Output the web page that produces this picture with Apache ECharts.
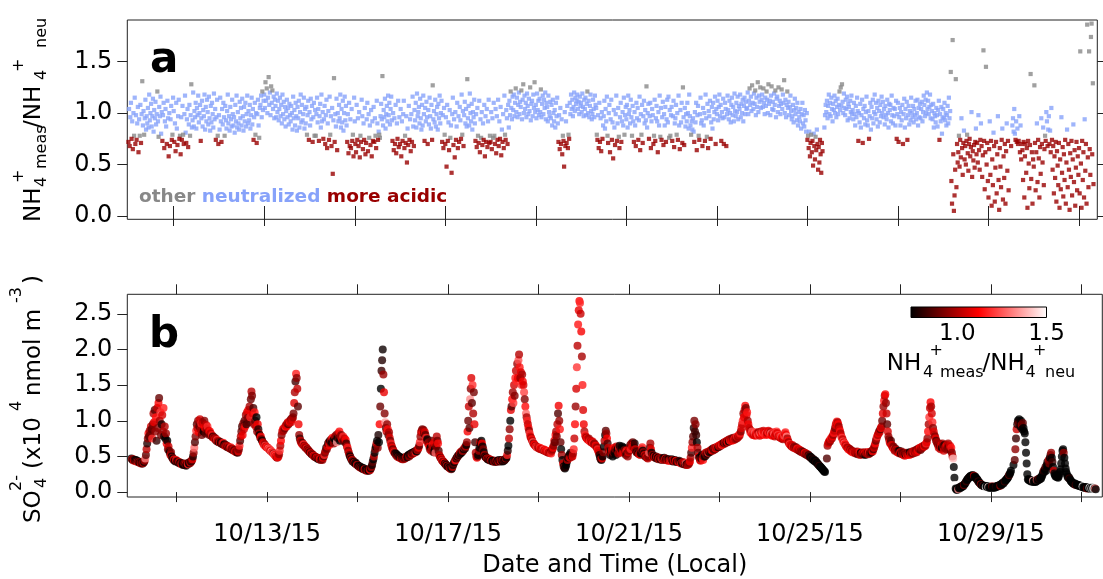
<!DOCTYPE html>
<html>
<head>
<meta charset="utf-8">
<script src="https://cdn.jsdelivr.net/npm/echarts@6/dist/echarts.min.js"></script>
<style>
  html, body { margin: 0; padding: 0; background: #fff; }
  #chart { width: 1103px; height: 579px; }
</style>
</head>
<body>
<div id="chart"></div>
<script>
// Sampling: one row per day (local time), starting 10/10/15 00:00, every 20 minutes.
const FIRST_DAY = 10;          // day of October of the first row
const SAMPLES_PER_DAY = 72;

// Sulfate, in units of 100 nmol m-3 (value / 100 gives x10^4 nmol m-3)
const so4ByDay = [
  [47,46,45,46,44,45, 44,45,43,44,42,43, 42,41,42,40,41,40, 40,41,42,44,47,52, 60,68,75,82,78,86, 80,92,88,75,95,110, 98,115,85,105,72,118, 90,125,132,100,112,80, 95,108,85,118,78,92, 75,82,68,72,60,64, 58,55,52,56,50,48, 47,45,46,44,43,45],
  [44,43,42,41,42,40, 41,40,39,40,38,39, 40,38,39,37,39,40, 39,41,40,42,41,43, 44,46,50,55,62,70, 78,86,95,90,100,84, 92,102,88,96,80,98, 95,85,100,90,82,94, 88,92,84,86,80,85, 82,79,80,77,78,76, 76,74,75,72,73,71, 72,70,71,69,70,68],
  [68,67,69,66,67,65, 66,64,65,63,64,62, 62,61,63,60,61,59, 60,58,59,57,58,56, 56,55,57,60,65,72, 78,85,92,80,96,88, 100,92,108,95,112,104, 115,98,120,105,130,141, 135,110,118,95,112,100, 92,105,85,95,88,82, 80,76,78,74,72,70, 68,66,67,65,64,63],
  [63,62,61,60,60,58, 58,57,56,55,54,53, 52,51,50,49,48,49, 50,53,58,65,72,80, 85,88,86,90,89,92, 94,92,96,98,95,97, 99,101,98,103,102,105, 110,125,140,155,166,160, 145,120,95,80,75,72, 70,68,69,66,67,65, 64,62,63,61,60,59, 58,57,56,55,54,53],
  [53,52,51,50,50,49, 49,48,47,48,46,47, 46,45,47,46,45,48, 50,52,55,58,62,60, 64,68,70,66,72,69, 74,70,76,72,68,75, 78,72,80,70,76,82, 75,85,72,78,80,74, 76,78,72,75,70,73, 68,64,62,58,55,52, 50,48,46,45,43,44, 42,41,40,41,39,38],
  [38,37,36,35,36,34, 34,33,34,32,33,32, 31,32,30,31,30,31, 30,32,31,33,35,38, 42,46,50,55,60,64, 68,72,62,80,70,95, 120,145,170,185,200,165, 140,110,98,90,85,95, 88,80,84,76,72,68, 65,62,60,58,56,55, 54,52,53,50,51,49, 50,48,49,47,48,46],
  [47,46,48,47,49,48, 50,49,51,52,50,53, 52,54,53,55,54,56, 55,57,56,58,57,59, 60,62,65,70,78,84, 86,88,85,87,82,84, 80,76,72,74,68,70, 64,60,62,58,72,66, 62,56,70,60,55,64, 78,72,68,58,52,50, 48,47,45,44,43,42, 41,40,39,38,37,36],
  [36,35,34,33,34,32, 33,35,38,40,42,44, 45,47,48,50,51,52, 53,55,54,57,56,58, 58,60,62,61,64,66, 70,85,100,120,90,130, 145,160,125,150,110,140, 95,70,55,50,48,50, 52,58,62,70,66,72, 68,64,60,56,52,50, 49,48,47,46,47,45, 46,45,44,45,44,43],
  [44,43,44,42,43,44, 43,44,43,45,44,43, 44,45,44,43,45,44, 45,46,47,48,52,58, 65,75,88,100,115,120, 130,140,125,150,135,160, 170,155,180,160,185,193, 175,160,168,150,165,155, 150,140,130,120,110,105, 100,95,90,86,82,78, 76,74,72,70,68,67, 66,65,64,63,62,63],
  [62,61,62,60,61,60, 60,59,60,58,59,58, 57,58,56,57,55,56, 55,56,54,58,60,62, 65,72,70,80,85,78, 95,110,121,100,88,70, 60,52,45,40,36,34, 33,35,38,42,45,48, 50,52,48,55,53,50, 50,54,60,75,95,120, 145,175,205,235,255,268, 265,250,225,190,150,115],
  [95,85,80,78,76,75, 74,73,75,72,71,72, 70,69,71,68,67,68, 66,65,64,62,60,58, 55,52,48,46,45,47, 50,56,64,72,80,86, 82,75,68,62,58,55, 52,58,54,60,50,56, 62,55,60,52,64,58, 60,54,62,65,58,56, 60,64,57,55,62,59, 55,52,58,54,50,56],
  [58,62,66,60,68,64, 70,66,62,68,60,58, 56,55,57,54,53,55, 52,54,60,63,58,56, 54,52,50,51,49,48, 47,50,55,62,68,60, 55,52,50,51,49,50, 48,50,47,49,48,46, 47,48,46,47,45,46, 47,46,48,45,47,46, 45,46,44,46,45,44, 45,44,46,45,43,44],
  [44,45,43,44,42,43, 43,42,44,41,42,40, 41,40,42,39,40,39, 40,38,39,38,40,39, 41,43,48,55,62,70, 78,90,100,85,95,80, 70,62,55,50,48,45, 44,47,52,48,45,50, 53,50,55,52,56,54, 55,57,56,58,57,59, 60,58,61,59,62,60, 61,63,62,64,63,65],
  [64,66,65,67,66,68, 67,69,70,68,71,70, 72,70,73,71,74,72, 73,75,72,74,76,73, 75,74,77,75,78,76, 78,80,79,82,85,90, 95,100,110,105,115,121, 118,108,112,100,95,90, 88,84,86,82,85,80, 82,80,83,79,81,84, 82,80,84,81,79,83, 85,82,80,84,86,83],
  [81,84,82,80,83,85, 86,83,81,84,82,80, 79,82,84,81,78,80, 82,85,83,80,78,79, 77,76,78,75,77,74, 76,79,82,84,80,78, 75,72,70,68,67,66, 65,64,66,63,62,64, 62,61,63,60,61,59, 60,58,59,57,58,56, 57,55,56,54,55,53, 54,52,53,51,52,50],
  [50,48,49,47,46,45, 46,44,43,44,42,41, 40,39,38,37,36,35, 34,33,32,31,30,29, 28,null,null,47,65,68, 70,72,71,74,76,75, 78,80,83,86,90,94, 97,99,98,95,92,88, 85,82,78,76,74,71, 70,68,67,65,64,63, 62,60,61,59,60,58, 57,58,56,57,55,56],
  [56,54,55,57,53,55, 54,56,52,55,53,54, 55,53,56,54,52,55, 54,56,55,53,56,54, 55,57,56,58,57,60, 62,65,68,72,75,78, 80,82,85,84,88,90, 92,100,110,120,128,135, 137,125,110,95,85,78, 74,70,68,72,66,64, 62,64,60,58,61,59, 58,56,57,55,58,54],
  [56,54,57,53,55,52, 54,51,53,55,52,54, 53,55,52,56,54,53, 55,57,54,56,58,55, 57,59,56,60,58,61, 60,62,59,63,61,64, 63,65,64,66,65,68, 70,75,85,95,105,118, 126,120,110,98,90,85, 80,78,75,72,70,68, 66,62,68,64,60,66, 62,68,64,58,66,62],
  [64,60,66,62,68,63, 60,65,58,62,55,50, 47,35,20,10,5,4, 3,5,4,6,5,7, 6,8,7,9,8,10, 11,12,14,15,17,18, 19,20,21,22,23,22, 23,24,22,23,21,22, 20,19,18,17,15,14, 13,12,11,10,10,9, 9,8,9,8,7,8, 7,8,7,6,7,6],
  [7,6,8,7,6,7, 6,7,8,7,8,9, 8,9,10,9,11,10, 12,13,12,14,15,16, 17,18,19,20,22,24, 25,27,30,null,null,null, 38,null,45,60,75,88, 95,100,98,102,96,92, 100,94,88,97,90,85, 82,70,55,40,25,18, 17,18,16,17,15,16, 15,16,14,15,16,14],
  [15,17,16,18,17,19, 18,20,19,22,24,27, 30,28,32,35,30,38, 42,36,45,40,48,52, 55,48,42,35,30,26, 24,22,23,21,22,20, 22,25,28,32,40,50, 58,60,55,48,40,33, 28,25,22,20,21,19, 18,16,15,14,13,12, 12,11,12,10,11,10, 10,9,10,9,8,9],
  [8,7,8,7,6,7, 6,7,6,5,6,6, 5,6,5,6,5,5, 6,5,6,5,5,4]
];

// NH4+ meas / NH4+ neu, in percent, same timestamps as so4ByDay
const ratioByDay = [
  [72,104,68,96,110,75, 92,65,100,78,115,70, 98,74,90,106,62,94, 78,108,71,99,131,88, 102,79,95,113,84,97, 90,105,86,118,93,100, 109,87,97,114,82,103, 95,111,89,99,121,92, 77,106,97,116,80,101, 73,98,110,66,92,104, 87,70,112,95,58,100, 68,94,107,74,79,115],
  [102,72,90,63,110,85, 69,97,113,75,78,60, 96,74,107,79,70,99, 117,81,71,94,104,67, 89,108,78,98,128,86, 93,120,87,102,96,110, 85,105,98,117,91,100, 108,73,95,112,87,103, 97,118,84,106,92,113, 101,89,116,95,83,107, 91,110,99,86,119,94, 104,74,96,113,78,70],
  [98,84,115,92,72,104, 89,110,96,78,107,93, 85,102,118,90,97,83, 106,94,87,113,99,88, 96,81,108,92,117,86, 101,90,84,111,95,105, 88,114,97,83,106,92, 110,87,99,117,90,102, 93,108,85,98,115,89, 104,74,96,110,79,100, 71,99,113,88,76,105, 108,117,96,121,103,112],
  [118,105,130,112,124,100, 115,135,108,120,98,126, 110,122,104,116,95,113, 107,96,119,101,112,93, 104,115,97,108,90,118, 99,111,94,106,87,102, 113,96,105,89,109,98, 92,107,100,84,116,95, 103,88,110,97,83,106, 95,112,86,101,118,91, 108,93,99,115,85,104, 90,106,79,98,112,74],
  [101,88,114,94,107,72, 96,110,78,103,78,99, 115,91,104,73,97,109, 86,118,92,101,75,94, 107,70,98,113,66,90, 102,74,116,79,97,68, 105,41,93,134,72,99, 87,114,64,100,92,108, 95,118,86,104,91,112, 83,100,116,93,107,88, 72,99,61,110,68,94, 66,104,73,79,58,115],
  [92,70,62,108,74,95, 68,101,57,78,72,113, 97,65,90,74,105,60, 71,94,110,63,99,76, 88,69,103,58,92,73, 106,72,95,78,66,112, 90,74,82,79,76,97, 109,94,136,88,103,96, 114,85,99,107,92,117, 98,110,89,104,116,93, 73,100,64,95,70,108, 61,90,75,112,67,96],
  [70,104,58,92,73,99, 112,66,78,71,97,52, 85,69,107,74,94,63, 99,72,116,87,68,103, 93,110,86,119,97,101, 106,90,114,95,84,108, 88,117,99,73,105,92, 111,96,70,103,89,115, 97,85,108,74,127,94, 102,91,113,87,99,106, 84,109,95,117,90,100, 112,72,98,66,105,79],
  [70,96,48,108,73,91, 64,103,76,88,42,99, 115,69,94,57,101,74, 87,110,66,97,72,106, 93,75,118,79,102,68, 98,111,90,104,87,133, 95,107,88,119,100,92, 109,84,101,96,113,90, 73,99,67,105,78,71, 112,62,94,76,101,69, 90,74,108,58,97,72, 104,67,92,113,71,78],
  [72,101,65,95,76,110, 78,70,104,61,97,74, 113,68,92,75,106,59, 84,72,99,66,117,79, 74,103,95,70,108,86, 112,98,121,105,94,116, 103,118,97,110,124,101, 115,96,108,120,99,111, 106,122,94,113,128,100, 117,104,110,96,119,107, 99,114,102,125,93,109, 112,97,118,105,130,101],
  [108,95,119,103,112,98, 114,101,123,96,109,117, 99,113,105,120,94,110, 106,92,117,101,97,111, 95,108,88,113,100,92, 103,86,110,97,115,90, 72,98,65,105,70,94, 60,78,73,48,101,68, 92,71,107,66,79,75, 110,99,118,104,113,97, 106,120,102,115,109,112, 118,104,111,99,116,107],
  [110,101,119,106,97,113, 104,115,98,109,121,100, 112,96,107,118,102,94, 99,113,104,96,117,108, 105,79,74,98,66,110, 72,95,63,101,75,88, 97,112,85,104,92,116, 78,71,100,108,62,94, 113,74,91,56,103,86, 69,99,117,73,90,105, 77,66,96,110,72,92, 101,88,115,79,98,106],
  [94,108,86,117,99,103, 90,113,96,78,107,92, 72,101,88,68,110,95, 105,74,93,116,64,99, 79,108,71,97,112,90, 103,93,126,86,100,109, 75,97,110,66,92,104, 98,70,78,113,73,95, 107,92,62,101,88,117, 77,105,74,96,111,69, 99,88,106,72,94,113, 91,116,76,103,78,98],
  [106,73,97,112,67,90, 95,108,79,100,74,117, 88,65,103,91,110,71, 125,96,69,105,87,99, 92,110,100,85,118,97, 88,79,92,84,95,82, 72,101,91,110,64,98, 107,78,74,99,115,90, 93,68,105,88,100,73, 118,95,77,109,66,102, 97,112,75,91,106,85, 110,94,101,116,70,104],
  [99,112,93,106,118,97, 108,73,101,95,114,70, 96,110,104,68,99,117, 103,94,112,100,91,108, 115,98,106,92,119,102, 97,110,101,116,94,107, 104,118,96,109,100,113, 92,107,115,99,111,104, 105,120,99,112,124,108, 116,102,127,110,104,119, 109,122,98,115,106,130, 101,117,111,125,105,113],
  [118,106,124,110,99,115, 107,121,113,100,128,109, 112,98,117,126,104,111, 103,119,108,122,96,114, 116,101,125,107,112,99, 109,123,104,118,110,132, 100,113,96,108,121,105, 111,98,106,117,102,94, 97,108,91,103,114,99, 105,93,110,88,101,96, 92,104,85,99,110,90, 98,87,103,93,82,100],
  [74,78,66,82,58,71, 79,62,73,49,80,68, 55,77,64,84,70,45, 67,52,74,60,42,71, 63,null,null,86,98,108, 101,112,95,107,118,99, 110,97,115,104,92,109, 103,117,100,112,96,106, 114,99,108,121,103,125, 107,128,111,100,119,105, 98,113,104,116,93,109, 106,95,112,101,117,99],
  [103,94,110,99,88,107, 96,115,102,73,100,91, 109,86,98,113,71,104, 95,107,89,101,116,93, 88,102,75,97,110,84, 106,95,113,90,101,118, 99,110,94,105,87,112, 102,91,108,97,116,100, 111,96,104,89,107,98, 94,113,100,86,109,103, 108,92,117,98,90,105, 97,104,88,112,75,99],
  [110,72,96,105,88,101, 93,108,70,99,114,86, 104,95,111,74,98,107, 89,102,93,115,100,96, 107,91,104,98,112,94, 100,113,88,105,96,109, 95,104,111,92,101,117, 108,97,113,100,120,104, 112,99,106,118,95,108, 102,94,109,86,100,97, 91,105,98,87,103,112, 74,99,92,106,80,95],
  [104,96,110,93,100,88, 98,107,90,115,95,102, 140,34,12,171,60,5, 20,45,133,28,70,52, 62,78,48,74,57,95, 66,40,71,83,55,68, 50,73,79,61,44,70, 75,58,67,101,38,63, 54,69,47,72,85,60, 71,52,98,64,45,74, 90,68,38,59,161,73, 26,62,145,50,71,34],
  [18,65,92,40,73,10, 55,30,81,68,14,47, 72,22,60,97,35,6, 66,48,28,74,85,16, 58,37,70,12,63,90, 44,73,25,null,null,null, 68,null,88,95,82,104, 80,74,92,72,85,70, 73,97,62,88,55,70, 64,35,72,18,58,70, 42,66,8,73,51,27, 69,138,36,62,12,55],
  [48,127,71,25,62,90, 33,74,56,18,67,41, 95,70,52,86,30,65, 78,73,101,92,68,84, 97,70,83,62,105,74, 45,68,22,58,37,72, 14,63,49,30,71,8, 55,26,96,42,67,19, 60,35,74,12,52,84, 28,70,45,6,61,38, 73,20,55,89,33,64, 10,47,72,25,58,40],
  [66,22,160,51,8,73, 35,62,18,94,44,70, 12,186,57,28,160,65, 40,174,187,60,129,31]
];

// Axis ticks and labels
const tickDays = [11, 13, 15, 17, 19, 21, 23, 25, 27, 29, 31];
const labelDays = [13, 17, 21, 25, 29];
const ratioTicks = [0, 0.5, 1.0, 1.5];
const so4Ticks = [0, 0.5, 1.0, 1.5, 2.0, 2.5];
const colorbarTicks = [1.0, 1.5];

// Classification limits for the ratio panel
const ACIDIC_BELOW = 0.76;
const NEUTRAL_FROM = 0.80;
const NEUTRAL_TO = 1.20;

// Color scale for the sulfate points
const RATIO_RANGE = [0.74, 1.5];
const RATIO_COLORS = ['#000000', '#ff0000', '#ffffff'];

const C_OTHER = '#888888';
const C_NEUTRAL = '#87a2fa';
const C_ACIDIC = '#990000';
const FONT = 'DejaVu Sans';
const INK = '#000';
const FRAME = '#222';

// ---- assemble series data ----
const otherPts = [], neutralPts = [], acidicPts = [], so4Pts = [];
so4ByDay.forEach((row, d) => {
  row.forEach((s, j) => {
    const t = FIRST_DAY + d + j / SAMPLES_PER_DAY;
    const r = ratioByDay[d][j];
    if (r != null) {
      const v = r / 100;
      if (v < ACIDIC_BELOW) acidicPts.push([t, v]);
      else if (v < NEUTRAL_FROM || v > NEUTRAL_TO) otherPts.push([t, v]);
      else neutralPts.push([t, v]);
    }
    if (s != null) so4Pts.push([t, s / 100, r / 100]);
  });
});

// ---- layout ----
const gridA = { left: 127.3, top: 20, width: 970, height: 199.3 };
const gridB = { left: 127.3, top: 294.3, width: 975, height: 205 };
const xRangeA = [9.975, 31.404];
const xRangeB = [9.908, 31.464];
const yRangeA = [-0.032, 1.905];
const yRangeB = [-0.069, 2.773];

const TICK_FONT = 24;
const tickStyle = { show: true, inside: false, length: 10, lineStyle: { color: FRAME, width: 1 } };
const labelFont = { fontFamily: FONT, fontSize: TICK_FONT, color: INK };

function xAxis(grid, position, range, withLabels) {
  const ax = {
    type: 'value', gridIndex: grid, position, min: range[0], max: range[1],
    axisLine: { show: false }, splitLine: { show: false },
    axisTick: Object.assign({ customValues: tickDays }, tickStyle),
    axisLabel: { show: false }
  };
  if (withLabels) {
    ax.axisLabel = Object.assign({ show: true, customValues: labelDays, margin: 26,
      formatter: v => '10/' + v + '/15' }, labelFont);
    ax.name = 'Date and Time (Local)';
    ax.nameLocation = 'middle';
    ax.nameGap = 57;
    ax.nameTextStyle = { fontFamily: FONT, fontSize: TICK_FONT, color: INK };
  }
  return ax;
}
function yAxis(grid, position, range, ticks, withLabels) {
  return {
    type: 'value', gridIndex: grid, position, min: range[0], max: range[1],
    axisLine: { show: false }, splitLine: { show: false },
    axisTick: Object.assign({ customValues: ticks }, tickStyle),
    axisLabel: withLabels
      ? Object.assign({ show: true, customValues: ticks, margin: 15, formatter: v => v.toFixed(1) }, labelFont)
      : { show: false }
  };
}

// ---- text helpers for the stacked sub/superscript titles ----
function txt(x, y, text, size, opts) {
  opts = opts || {};
  return {
    type: 'text', x, y, rotation: opts.rot || 0, silent: true, z: 100,
    style: { text, fontFamily: FONT, fontSize: size, fontWeight: opts.weight || 'normal',
      fill: opts.fill || INK, align: opts.align || 'left', verticalAlign: 'middle' }
  };
}
const UP = { rot: Math.PI / 2 };

const MAIN = 23, SMALL = 16;

// y title of the ratio panel, read bottom to top
const titleA = [
  txt(34, 222, 'NH', MAIN, UP),
  txt(41.5, 187, '4', SMALL, UP),
  txt(19, 183, '+', SMALL, UP),
  txt(41.5, 169, 'meas', SMALL, UP),
  txt(34, 128, '/NH', MAIN, UP),
  txt(41.5, 80, '4', SMALL, UP),
  txt(19, 72, '+', SMALL, UP),
  txt(41.5, 48, 'neu', SMALL, UP)
];

// y title of the sulfate panel
const titleB = [
  txt(34, 523, 'SO', MAIN, UP),
  txt(41.5, 488, '4', SMALL, UP),
  txt(17, 491, '2-', SMALL, UP),
  txt(34, 469, '(x10', MAIN, UP),
  txt(17, 411, '4', SMALL, UP),
  txt(34, 396, 'nmol m', MAIN, UP),
  txt(17, 303, '-3', SMALL, UP),
  txt(34, 284, ')', MAIN, UP)
];

// colorbar
const cb = { x: 911, y: 307, w: 135.5, h: 10.5 };
const cbStops = RATIO_COLORS.map((c, i) => ({ offset: i / (RATIO_COLORS.length - 1), color: c }));
const cbX = v => cb.x + (v - RATIO_RANGE[0]) / (RATIO_RANGE[1] - RATIO_RANGE[0]) * cb.w;
const colorbar = [
  { type: 'rect', silent: true, z: 100,
    shape: { x: cb.x, y: cb.y, width: cb.w, height: cb.h },
    style: { fill: { type: 'linear', x: 0, y: 0, x2: 1, y2: 0, colorStops: cbStops }, stroke: '#000', lineWidth: 1 } }
].concat(colorbarTicks.map(v => txt(cbX(v), 334, v.toFixed(1), MAIN, { align: 'center' })))
 .concat([
  txt(886.7, 364, 'NH', MAIN),
  txt(923, 373, '4', SMALL),
  txt(929.5, 351, '+', SMALL),
  txt(940, 373, 'meas', SMALL),
  txt(982.5, 364, '/NH', MAIN),
  txt(1025.5, 373, '4', SMALL),
  txt(1033, 351, '+', SMALL),
  txt(1045, 373, 'neu', SMALL)
]);

const panelLetters = [
  txt(150, 61, 'a', 42, { weight: 'bold' }),
  txt(149, 336, 'b', 42, { weight: 'bold' })
];

const KEY_SIZE = 18.5;
const categoryKey = {
  type: 'text', x: 139, y: 197, silent: true, z: 100,
  style: {
    text: '{o|other} {n|neutralized} {m|more acidic}',
    fontFamily: FONT, fontSize: KEY_SIZE, fontWeight: 'bold', verticalAlign: 'middle',
    rich: {
      o: { fill: C_OTHER, fontFamily: FONT, fontSize: KEY_SIZE, fontWeight: 'bold' },
      n: { fill: C_NEUTRAL, fontFamily: FONT, fontSize: KEY_SIZE, fontWeight: 'bold' },
      m: { fill: C_ACIDIC, fontFamily: FONT, fontSize: KEY_SIZE, fontWeight: 'bold' }
    }
  }
};

const chart = echarts.init(document.getElementById('chart'), null, { renderer: 'canvas' });

function squares(name, data, color) {
  return { name, type: 'scatter', xAxisIndex: 0, yAxisIndex: 0, data, symbol: 'rect', symbolSize: 4.2,
    itemStyle: { color }, silent: true, progressive: 0, animation: false };
}

chart.setOption({
  animation: false,
  backgroundColor: '#fff',
  grid: [
    Object.assign({ show: true, borderColor: FRAME, borderWidth: 1, backgroundColor: 'transparent' }, gridA),
    Object.assign({ show: true, borderColor: FRAME, borderWidth: 1, backgroundColor: 'transparent' }, gridB)
  ],
  xAxis: [
    xAxis(0, 'bottom', xRangeA, false),
    xAxis(0, 'top', xRangeA, false),
    xAxis(1, 'bottom', xRangeB, true),
    xAxis(1, 'top', xRangeB, false)
  ],
  yAxis: [
    yAxis(0, 'left', yRangeA, ratioTicks, true),
    yAxis(0, 'right', yRangeA, ratioTicks, false),
    yAxis(1, 'left', yRangeB, so4Ticks, true)
  ],
  visualMap: {
    show: false, type: 'continuous', seriesIndex: 3, dimension: 2,
    min: RATIO_RANGE[0], max: RATIO_RANGE[1], inRange: { color: RATIO_COLORS }
  },
  series: [
    squares('neutralized', neutralPts, C_NEUTRAL),
    squares('other', otherPts, C_OTHER),
    squares('more acidic', acidicPts, C_ACIDIC),
    { name: 'SO4', type: 'scatter', xAxisIndex: 2, yAxisIndex: 2, data: so4Pts,
      symbol: 'circle', symbolSize: 8, silent: true, progressive: 0, animation: false }
  ],
  graphic: titleA.concat(titleB, colorbar, panelLetters, [categoryKey])
});
</script>
</body>
</html>
